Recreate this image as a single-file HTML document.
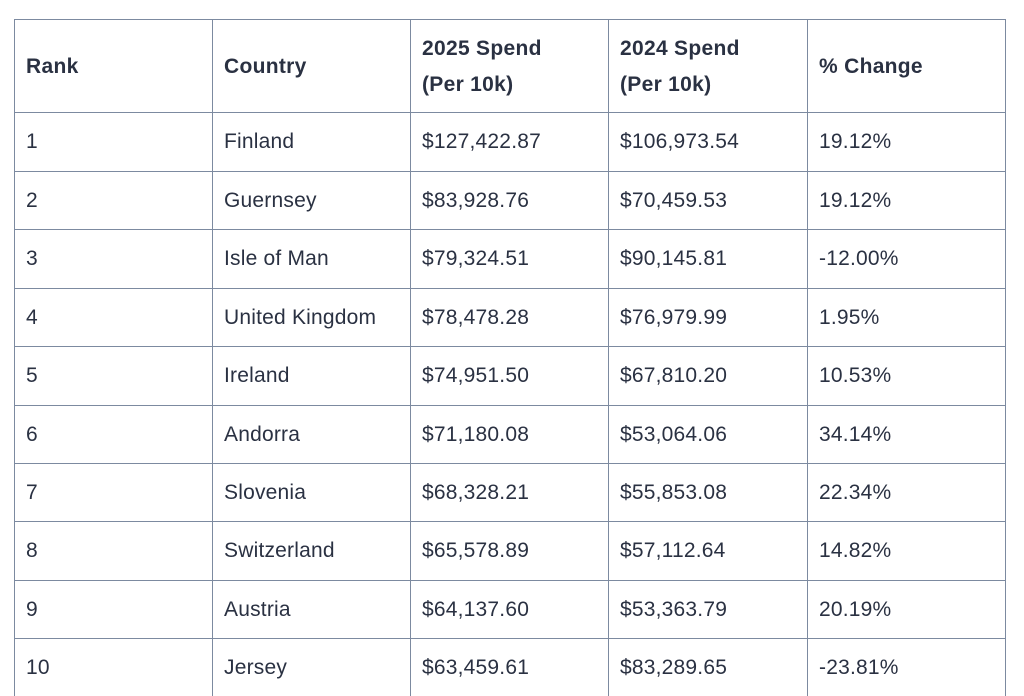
<!DOCTYPE html>
<html><head><style>
body{margin:0;background:#fff;width:1024px;height:696px;overflow:hidden;position:relative;font-family:"Liberation Sans",sans-serif;color:#2a3142}
.h{position:absolute;left:14px;width:991px;height:1px;background:#7c8aa0}
.v{position:absolute;top:19px;height:677px;width:1px;background:#7c8aa0}
.t{position:absolute;font-size:21px;line-height:24px;white-space:nowrap;letter-spacing:0.2px}
.b{font-weight:bold;font-size:21px;line-height:36px;letter-spacing:0.3px}
</style></head><body>
<div class="h" style="top:19px"></div>
<div class="h" style="top:112px"></div>
<div class="h" style="top:171px"></div>
<div class="h" style="top:229px"></div>
<div class="h" style="top:288px"></div>
<div class="h" style="top:346px"></div>
<div class="h" style="top:405px"></div>
<div class="h" style="top:463px"></div>
<div class="h" style="top:521px"></div>
<div class="h" style="top:580px"></div>
<div class="h" style="top:638px"></div>
<div class="v" style="left:14px"></div>
<div class="v" style="left:212px"></div>
<div class="v" style="left:410px"></div>
<div class="v" style="left:608px"></div>
<div class="v" style="left:807px"></div>
<div class="v" style="left:1005px"></div>
<div class="t b" style="left:26px;top:49px">Rank</div>
<div class="t b" style="left:224px;top:49px">Country</div>
<div class="t b" style="left:422px;top:31px">2025 Spend<br>(Per 10k)</div>
<div class="t b" style="left:620px;top:31px">2024 Spend<br>(Per 10k)</div>
<div class="t b" style="left:819px;top:49px">% Change</div>
<div id="rows"></div>
<script>
var d=[["1","Finland","$127,422.87","$106,973.54","19.12%"],["2","Guernsey","$83,928.76","$70,459.53","19.12%"],["3","Isle of Man","$79,324.51","$90,145.81","-12.00%"],["4","United Kingdom","$78,478.28","$76,979.99","1.95%"],["5","Ireland","$74,951.50","$67,810.20","10.53%"],["6","Andorra","$71,180.08","$53,064.06","34.14%"],["7","Slovenia","$68,328.21","$55,853.08","22.34%"],["8","Switzerland","$65,578.89","$57,112.64","14.82%"],["9","Austria","$64,137.60","$53,363.79","20.19%"],["10","Jersey","$63,459.61","$83,289.65","-23.81%"]];
var xs=[26,224,422,620,819],tops=[112,171,229,288,346,405,463,521,580,638],h="";
d.forEach(function(r,i){r.forEach(function(c,j){h+='<div class="t" style="left:'+xs[j]+'px;top:'+(tops[i]+18)+'px">'+c+'</div>';});});
document.getElementById("rows").innerHTML=h;
</script>
</body></html>
